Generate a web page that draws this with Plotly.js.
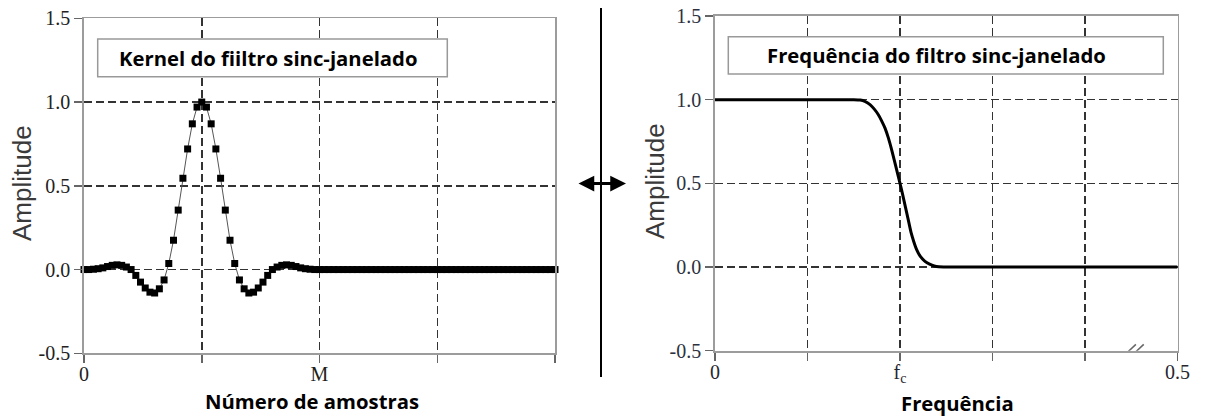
<!DOCTYPE html>
<html>
<head>
<meta charset="utf-8">
<script src="https://cdn.plot.ly/plotly-3.0.1.min.js"></script>
<style>html,body{margin:0;padding:0;background:#fff;}#chart{width:1206px;height:416px;}</style>
</head>
<body>
<div id="chart"></div>
<script>
// ---- data ----
var kernelX = [0,1,2,3,4,5,6,7,8,9,10,11,12,13,14,15,16,17,18,19,20,21,22,23,24,25,26,27,28,29,30,31,32,33,34,35,36,37,38,39,40,41,42,43,44,45,46,47,48,49,50,
  51,52,53,54,55,56,57,58,59,60,61,62,63,64,65,66,67,68,69,70,71,72,73,74,75,76,77,78,79,80,81,82,83,84,85,86,87,88,89,90,91,92,93,94,95,96,97,98,99,100];
var kernelY = [0,0,0.002,0.005,0.01,0.018,0.025,0.028,0.025,0.015,0,-0.035,-0.075,-0.11,-0.135,-0.14,-0.115,-0.062,0.036,0.175,0.355,0.545,0.72,0.87,0.97,1.0,
  0.97,0.87,0.72,0.545,0.355,0.175,0.036,-0.062,-0.115,-0.14,-0.135,-0.11,-0.075,-0.035,0,0.015,0.025,0.028,0.025,0.018,0.01,0.005,0.002,0,0,
  0,0,0,0,0,0,0,0,0,0,0,0,0,0,0,0,0,0,0,0,0,0,0,0,0,0,0,0,0,0,0,0,0,0,0,0,0,0,0,0,0,0,0,0,0,0,0,0,0,0];
var kernelTickVals = [0,25,50,75,100];
var kernelTickText = ["0","","M","",""];

var freqX = [0,0.5,1.0,1.5,1.57,1.62,1.676,1.72,1.766,1.80,1.838,1.875,1.91,1.94,1.964,2.0,2.03,2.06,2.09,2.12,2.15,2.18,2.22,2.27,2.32,2.37,2.42,2.47,3,4,5];
var freqY = [1,1,1,1,0.998,0.99,0.97,0.945,0.91,0.875,0.83,0.77,0.70,0.635,0.58,0.5,0.43,0.355,0.28,0.205,0.15,0.104,0.063,0.034,0.017,0.006,0.001,0,0,0,0];
var freqTickVals = [0,1,2,3,4,5];
var freqTickText = ["0","","f<sub>c</sub>","","","0.5"];

var ampTickVals = [-0.5,0,0.5,1,1.5];
var ampTickText = ["-0.5","0.0","0.5","1.0","1.5"];

var titleLeft = "Kernel do fiiltro sinc-janelado";
var titleRight = "Frequência do filtro sinc-janelado";
var xTitleLeft = "Número de amostras";
var xTitleRight = "Frequência";
var yTitle = "Amplitude";

// ---- layout helpers ----
var W = 1206, H = 416;
function px(x){ return x / W; }
function py(y){ return 1 - y / H; }

function axisStyle(extra, labelColor){
  var a = {
    showgrid: true, griddash: "8px,4px", gridcolor: "#333", gridwidth: 1.5,
    showline: true, linecolor: "#9c9c9c", linewidth: 1.8, mirror: true,
    ticks: "outside", ticklen: 8, tickwidth: 1.5, tickcolor: "#666",
    zeroline: false, fixedrange: true, tickmode: "array",
    tickfont: {family: "Liberation Serif, Times New Roman, serif", size: 20, color: labelColor}
  };
  for (var k in extra) a[k] = extra[k];
  return a;
}

var traces = [
  {x: kernelX, y: kernelY, xaxis: "x", yaxis: "y", type: "scatter", mode: "lines+markers",
   line: {color: "#555", width: 1}, marker: {symbol: "square", size: 7, color: "#000"}, cliponaxis: false, hoverinfo: "skip"},
  {x: freqX, y: freqY, xaxis: "x2", yaxis: "y2", type: "scatter", mode: "lines",
   line: {color: "#000", width: 3, shape: "spline", smoothing: 0.6}, cliponaxis: false, hoverinfo: "skip"}
];

var boldFont = {family: "Open Sans", size: 20.3, weight: 700, color: "#000"};
var ampFont = {family: "Liberation Sans, Arial, sans-serif", size: 26, color: "#3a3a3a"};

var layout = {
  width: W, height: H, margin: {l: 0, r: 0, t: 0, b: 0},
  paper_bgcolor: "#fff", plot_bgcolor: "#fff", showlegend: false,
  xaxis: axisStyle({domain: [px(84), px(555)], range: [0, 100], tickvals: kernelTickVals, ticktext: kernelTickText, anchor: "y", ticklabelstandoff: -6}, "#221e1a"),
  yaxis: axisStyle({domain: [py(353.3), py(18.3)], range: [-0.5, 1.5], tickvals: ampTickVals, ticktext: ampTickText, anchor: "x"}, "#222"),
  xaxis2: axisStyle({domain: [px(715), px(1177.5)], range: [0, 5], tickvals: freqTickVals, ticktext: freqTickText, anchor: "y2", ticklabelstandoff: -6}, "#26262e"),
  yaxis2: axisStyle({domain: [py(350.7), py(16)], range: [-0.5, 1.5], tickvals: ampTickVals, ticktext: ampTickText, anchor: "x2"}, "#2c3140"),
  shapes: [
    {type: "rect", xref: "paper", yref: "paper", x0: px(97.7), x1: px(447.3), y0: py(76.7), y1: py(39),
     line: {color: "#999", width: 1.5}, fillcolor: "#fff", layer: "above"},
    {type: "rect", xref: "paper", yref: "paper", x0: px(728.3), x1: px(1163.3), y0: py(74), y1: py(36.7),
     line: {color: "#999", width: 1.5}, fillcolor: "#fff", layer: "above"},
    {type: "line", xref: "paper", yref: "paper", x0: px(601), x1: px(601), y0: py(8), y1: py(377),
     line: {color: "#000", width: 2}},
    {type: "line", xref: "x2", yref: "y2", x0: 4.40, x1: 4.55, y0: -0.54, y1: -0.462, line: {color: "#666", width: 1.5}},
    {type: "line", xref: "x2", yref: "y2", x0: 4.485, x1: 4.635, y0: -0.54, y1: -0.462, line: {color: "#666", width: 1.5}}
  ],
  annotations: [
    {xref: "paper", yref: "paper", x: px(267.5), y: py(57.8), text: titleLeft, showarrow: false,
     font: boldFont, xanchor: "center", yanchor: "middle"},
    {xref: "paper", yref: "paper", x: px(936), y: py(55.3), text: titleRight, showarrow: false,
     font: boldFont, xanchor: "center", yanchor: "middle"},
    {xref: "paper", yref: "paper", x: px(312), y: py(401), text: xTitleLeft, showarrow: false,
     font: boldFont, xanchor: "center", yanchor: "middle"},
    {xref: "paper", yref: "paper", x: px(957), y: py(403), text: xTitleRight, showarrow: false,
     font: boldFont, xanchor: "center", yanchor: "middle"},
    {xref: "paper", yref: "paper", x: px(22), y: py(183), text: yTitle, showarrow: false, textangle: -90,
     font: ampFont, xanchor: "center", yanchor: "middle"},
    {xref: "paper", yref: "paper", x: px(655), y: py(181), text: yTitle, showarrow: false, textangle: -90,
     font: ampFont, xanchor: "center", yanchor: "middle"},
    {xref: "paper", yref: "paper", x: px(626), y: py(183.5), ax: -49, ay: 0, axref: "pixel", ayref: "pixel", text: "",
     showarrow: true, arrowhead: 2, startarrowhead: 2, arrowside: "end+start", arrowsize: 1.05, startarrowsize: 1.05,
     arrowwidth: 3, arrowcolor: "#000"}
  ]
};

Plotly.newPlot("chart", traces, layout, {staticPlot: true, displayModeBar: false});
</script>
</body>
</html>
